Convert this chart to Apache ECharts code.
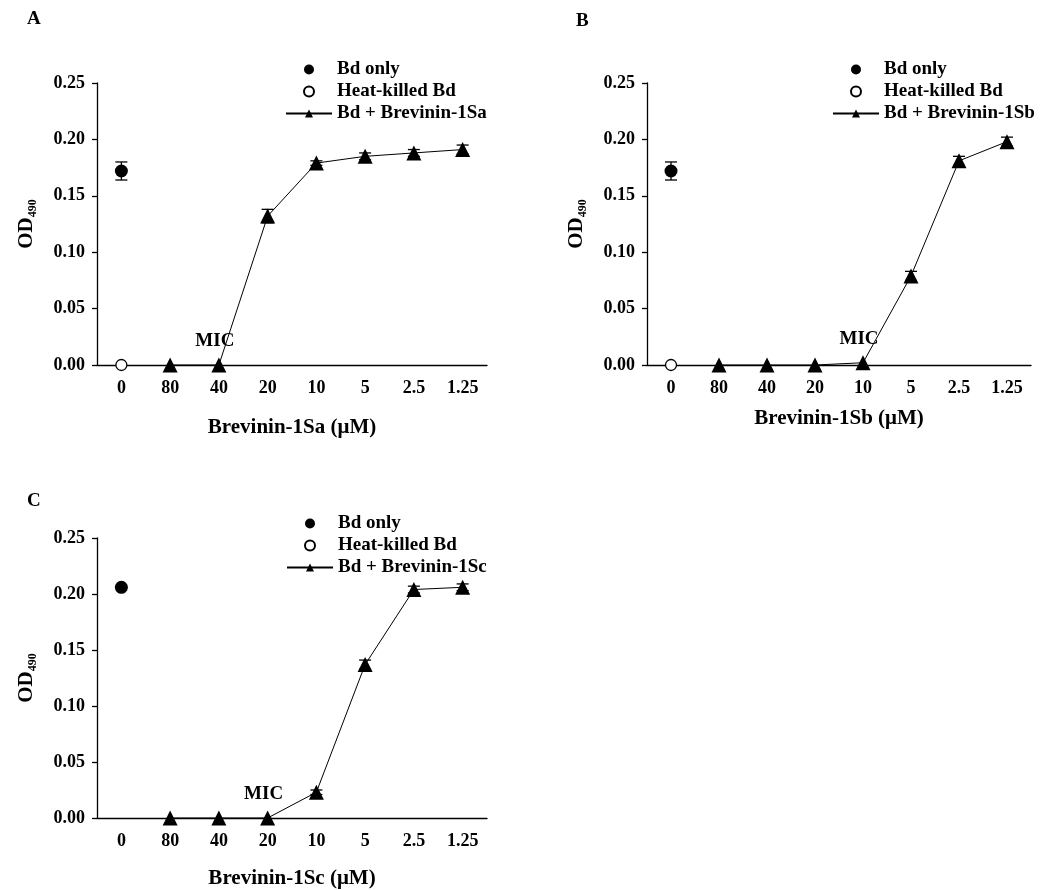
<!DOCTYPE html>
<html>
<head>
<meta charset="utf-8">
<script src="https://cdn.jsdelivr.net/npm/echarts@6/dist/echarts.min.js"></script>
<style>
  html, body { margin: 0; padding: 0; background: #fff; }
  #main { width: 1050px; height: 890px; }
</style>
</head>
<body>
<div id="main"></div>
<script>
// x categories (peptide concentration, µM) - 0 = no peptide
const doses = ['0', '80', '40', '20', '10', '5', '2.5', '1.25']
const panelLetters = ['A', 'B', 'C']
const peptides = ['Brevinin-1Sa', 'Brevinin-1Sb', 'Brevinin-1Sc']

// Bd only (only plotted at dose 0)
const bdOnlyMean = [0.172, 0.172, 0.206]
const bdOnlyErr = [0.008, 0.008, 0]
// heat-killed Bd (C has no visible point)
const heatKilled = [0, 0, null]

// Bd + peptide, one value per dose (index 0 is empty)
const peptideA = [null, 0, 0, 0.132, 0.179, 0.185, 0.188, 0.191]
const peptideAErr = [null, 0, 0, 0.006, 0.002, 0.003, 0.003, 0.004]
const peptideB = [null, 0, 0, 0, 0.002, 0.079, 0.181, 0.198]
const peptideBErr = [null, 0, 0, 0, 0, 0.004, 0.004, 0.004]
const peptideC = [null, 0, 0, 0, 0.023, 0.137, 0.204, 0.206]
const peptideCErr = [null, 0, 0, 0, 0.002, 0.004, 0.003, 0.003]
// where the MIC label goes
const micIndex = [2, 4, 3]

const peptideMeans = [peptideA, peptideB, peptideC]
const peptideErrs = [peptideAErr, peptideBErr, peptideCErr]

const font = '"Liberation Serif", "Times New Roman", serif'
const txt = { fontFamily: font, fontWeight: 'bold', fontSize: 18, color: '#000' }

// grid boxes, legend spots, title spots for A B C
const grids = [
    { left: 97, top: 83, width: 390, height: 282 },
    { left: 647, top: 83, width: 384, height: 282 },
    { left: 97, top: 538, width: 390, height: 281 }
]
const legendPos = [{ left: 280, top: 55 }, { left: 827, top: 55 }, { left: 281, top: 509 }]
const titlePos = [{ left: 22, top: 5 }, { left: 571, top: 7 }, { left: 22, top: 487 }]
const xNameGap = [52, 43, 50]

// error bars drawn through the axis scale
function renderErr(params, api) {
    const x = api.value(0)
    const y = api.value(1)
    const e = api.value(2)
    if (!e) return
    const top = api.coord([x, y + e])
    const bot = api.coord([x, y - e])
    const w = 6
    const style = { stroke: '#000', lineWidth: 1.3 }
    return {
        type: 'group',
        children: [
            { type: 'line', shape: { x1: top[0], y1: top[1], x2: bot[0], y2: bot[1] }, style },
            { type: 'line', shape: { x1: top[0] - w, y1: top[1], x2: top[0] + w, y2: top[1] }, style },
            { type: 'line', shape: { x1: bot[0] - w, y1: bot[1], x2: bot[0] + w, y2: bot[1] }, style }
        ]
    }
}

const option = {
    animation: false,
    backgroundColor: '#fff',
    title: [], grid: [], xAxis: [], yAxis: [], legend: [], series: []
}

panelLetters.forEach((letter, p) => {
    const seriesName = 'Bd + ' + peptides[p]
    option.title.push({
        text: letter, left: titlePos[p].left, top: titlePos[p].top,
        textStyle: { ...txt, fontSize: 19 }
    })
    option.grid.push(grids[p])
    option.xAxis.push({
        type: 'category', gridIndex: p, data: doses,
        name: peptides[p] + ' (μM)', nameLocation: 'middle', nameGap: xNameGap[p],
        nameTextStyle: { ...txt, fontSize: 21 },
        axisLine: { lineStyle: { color: '#000', width: 1.3 } },
        axisTick: { length: 5, lineStyle: { color: '#000', width: 1.3 } },
        axisLabel: { ...txt, margin: 14 },
        splitLine: { show: false }
    })
    option.yAxis.push({
        type: 'value', gridIndex: p, min: 0, max: 0.25, interval: 0.05,
        name: '{a|OD}{b|490}', nameLocation: 'middle', nameRotate: 90, nameGap: 58,
        nameTextStyle: {
            rich: {
                a: { ...txt, fontSize: 21, lineHeight: 24 },
                b: { ...txt, fontSize: 12, verticalAlign: 'bottom', lineHeight: 15 }
            }
        },
        axisLine: { show: true, lineStyle: { color: '#000', width: 1.3 } },
        axisTick: { show: true, length: 5, lineStyle: { color: '#000', width: 1.3 } },
        axisLabel: { ...txt, margin: 12, formatter: v => v.toFixed(2) },
        splitLine: { show: false }
    })
    option.legend.push({
        orient: 'vertical', left: legendPos[p].left, top: legendPos[p].top,
        itemWidth: 46, itemHeight: 10, itemGap: 3,
        selectedMode: false,
        textStyle: { ...txt, fontSize: 19, lineHeight: 19 },
        data: ['Bd only', 'Heat-killed Bd', seriesName]
    })

    // error bars first so markers sit on top
    const errData = [[0, bdOnlyMean[p], bdOnlyErr[p]]]
    peptideMeans[p].forEach((v, i) => {
        if (v !== null) errData.push([i, v, peptideErrs[p][i]])
    })
    option.series.push({
        type: 'custom', xAxisIndex: p, yAxisIndex: p, renderItem: renderErr,
        data: errData, z: 1, silent: true
    })
    option.series.push({
        name: 'Bd only', type: 'scatter', xAxisIndex: p, yAxisIndex: p,
        symbol: 'circle', symbolSize: 13,
        itemStyle: { color: '#000', opacity: 1 },
        data: [[0, bdOnlyMean[p]]], z: 3
    })
    option.series.push({
        name: 'Heat-killed Bd', type: 'scatter', xAxisIndex: p, yAxisIndex: p,
        symbol: 'circle', symbolSize: 11,
        itemStyle: { color: '#fff', borderColor: '#000', borderWidth: 1.3, opacity: 1 },
        data: heatKilled[p] === null ? [] : [[0, heatKilled[p]]], z: 3
    })
    option.series.push({
        name: seriesName, type: 'line', xAxisIndex: p, yAxisIndex: p,
        symbol: 'triangle', symbolSize: 15,
        itemStyle: { color: '#000' },
        lineStyle: { color: '#000', width: 1 },
        clip: false, z: 3,
        data: peptideMeans[p].map((v, i) => i === micIndex[p]
            ? { value: v, label: { show: true, formatter: 'MIC', position: 'top', distance: 7, offset: [-4, 0], ...txt, fontSize: 19 } }
            : v)
    })
})

const chart = echarts.init(document.getElementById('main'))
chart.setOption(option)
</script>
</body>
</html>
